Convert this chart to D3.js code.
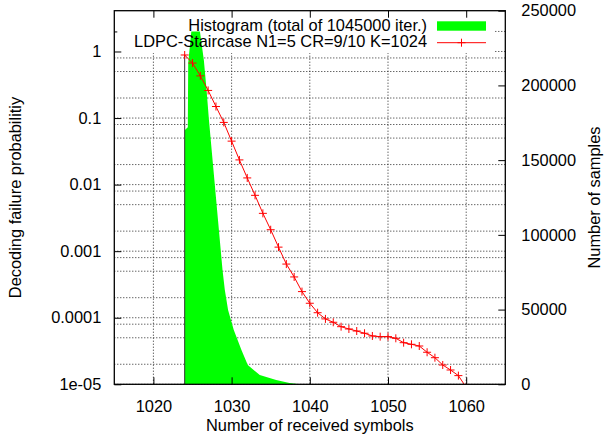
<!DOCTYPE html>
<html>
<head>
<meta charset="utf-8">
<script src="https://cdn.jsdelivr.net/npm/d3@7"></script>
<style>
body { margin: 0; background: #fff; }
text { font-family: "Liberation Sans", Helvetica, Arial, sans-serif; fill: #000; }
</style>
</head>
<body>
<svg width="610" height="440"></svg>
<script>
// decoding failure probability per number of received symbols
let symbols = [1024, 1025, 1026, 1027, 1028, 1029, 1030, 1031, 1032, 1033, 1034, 1035, 1036,
               1037, 1038, 1039, 1040, 1041, 1042, 1043, 1044, 1045, 1046, 1047, 1048, 1049,
               1050, 1051, 1052, 1053, 1054, 1055, 1056, 1057, 1058, 1059, 1060]
let failProb = [0.886, 0.67, 0.43, 0.26, 0.149, 0.086, 0.045, 0.0235, 0.0126, 0.0069, 0.0037, 0.0021, 0.00115,
                0.00064, 0.00041, 0.000247, 0.000165, 0.000119, 0.000096, 0.0000855, 0.0000734, 0.0000678, 0.0000632, 0.0000585, 0.0000532, 0.000052,
                0.000052, 0.0000491, 0.0000422, 0.0000399, 0.0000376, 0.0000303, 0.0000251, 0.0000195, 0.0000164, 0.0000135, 0.000009]

// histogram outline (number of samples)
let histX = [1024, 1024, 1024.4, 1024.45, 1024.85, 1025.95, 1026.45, 1026.8, 1027.1, 1028.84,
             1029.13, 1029.55, 1030.28, 1031.26, 1032.07, 1033.6, 1035.7, 1037.4, 1038.7]
let histCount = [0, 170000, 172000, 215000, 236000, 236000, 217000, 197000, 177000, 76500,
                 63200, 49700, 36300, 22900, 12900, 6200, 2900, 870, 0]

let K = 1024
let xTicks = [1020, 1030, 1040, 1050, 1060]
let yTicks = [1, 0.1, 0.01, 0.001, 0.0001, 0.00001]
let yTickLabels = ["1", "0.1", "0.01", "0.001", "0.0001", "1e-05"]
let y2Ticks = [0, 50000, 100000, 150000, 200000, 250000]
let gridMult = [1, 2, 5, 8]

let legendHist = "Histogram (total of 1045000 iter.)"
let legendCurve = "LDPC-Staircase N1=5 CR=9/10 K=1024"

let svg = d3.select("svg")
let margin = {top: 10.7, right: 104.7, bottom: 55.7, left: 114.3}
let w = 610 - margin.left - margin.right
let h = 440 - margin.top - margin.bottom
let fs = "16.4px"

let x = d3.scaleLinear().domain([1015, 1065]).range([0, w])
let y = d3.scaleLog().domain([1e-5, 4.1]).range([h, 0])
let y2 = d3.scaleLinear().domain([0, 250000]).range([h, 0])

let g = svg.append("g")
    .attr("transform", "translate(" + margin.left + "," + margin.top + ")")

g.append("clipPath").attr("id", "clip")
 .append("rect").attr("width", w).attr("height", h)

// grid
let gridVals = []
for (let k = -6; k <= 1; k++) {
    gridMult.forEach((m) => {
        let v = m * Math.pow(10, k)
        if (v >= 1e-5 && v <= 4.1) gridVals.push(v)
    })
}

let grid = g.append("g")
    .attr("stroke", "#000")
    .attr("stroke-width", 1)
    .attr("stroke-dasharray", "1,2")
    .attr("opacity", 0.85)

grid.selectAll(".hg")
    .data(gridVals)
    .enter().append("line")
    .attr("x1", 0).attr("x2", w)
    .attr("y1", (d) => y(d)).attr("y2", (d) => y(d))

grid.selectAll(".vg")
    .data(xTicks)
    .enter().append("line")
    .attr("y1", 0).attr("y2", h)
    .attr("x1", (d) => x(d)).attr("x2", (d) => x(d))

// key area keeps grid out
g.append("rect")
 .attr("x", 0).attr("y", 0)
 .attr("width", 495 - margin.left).attr("height", 53 - margin.top)
 .attr("fill", "#fff")

let plot = g.append("g").attr("clip-path", "url(#clip)")

// histogram
let hist = histX.map((d, i) => ({x: d, c: histCount[i]}))
plot.append("path")
    .datum(hist)
    .attr("fill", "#00ff00")
    .attr("d", d3.area().x((d) => x(d.x)).y0(h).y1((d) => y2(d.c)))

// vertical line at K
plot.append("line")
    .attr("x1", x(K)).attr("x2", x(K))
    .attr("y1", y(failProb[0])).attr("y2", h)
    .attr("stroke", "#333")
    .attr("stroke-width", 1)

// failure curve
let curve = symbols.map((d, i) => ({s: d, p: failProb[i]}))
plot.append("path")
    .datum(curve)
    .attr("fill", "none")
    .attr("stroke", "#ff0000")
    .attr("stroke-width", 1)
    .attr("d", d3.line().x((d) => x(d.s)).y((d) => y(d.p)))

plot.selectAll(".pt")
    .data(curve)
    .enter().append("path")
    .attr("stroke", "#ff0000")
    .attr("stroke-width", 1)
    .attr("d", (d) => {
        let px = x(d.s), py = y(d.p)
        return "M" + (px - 4) + "," + py + "H" + (px + 4) + "M" + px + "," + (py - 4) + "V" + (py + 4)
    })

// axes
let xa = g.append("g")
    .attr("transform", "translate(0," + h + ")")
    .call(d3.axisBottom(x).tickValues(xTicks).tickSize(-7).tickPadding(16).tickFormat(d3.format("d")))
let xt = g.append("g")
    .call(d3.axisTop(x).tickValues(xTicks).tickSize(-7).tickFormat(""))
let ya = g.append("g")
    .call(d3.axisLeft(y).tickValues(yTicks).tickSize(-7).tickPadding(13)
        .tickFormat((d, i) => yTickLabels[i]))
let ym = g.append("g")
    .call(d3.axisLeft(y).tickValues([2]).tickSize(-3).tickFormat(""))
let y2a = g.append("g")
    .attr("transform", "translate(" + w + ",0)")
    .call(d3.axisRight(y2).tickValues(y2Ticks).tickSize(-7).tickPadding(16).tickFormat(d3.format("d")))

;[xa, xt, ya, ym, y2a].forEach((a) => {
    a.select(".domain").remove()
    a.selectAll("line").attr("stroke", "#000")
    a.selectAll("text").attr("font-size", fs).attr("fill", "#000")
})
y2a.selectAll("text").attr("text-anchor", "start")

g.append("rect")
 .attr("width", w).attr("height", h)
 .attr("fill", "none")
 .attr("stroke", "#000")
 .attr("stroke-width", 1.3)

// axis titles
svg.append("text")
   .attr("x", margin.left + w / 2)
   .attr("y", 431)
   .attr("text-anchor", "middle")
   .attr("font-size", fs)
   .text("Number of received symbols")

svg.append("text")
   .attr("transform", "translate(21," + (margin.top + h / 2) + ") rotate(-90)")
   .attr("text-anchor", "middle")
   .attr("font-size", fs)
   .text("Decoding failure probabilitiy")

svg.append("text")
   .attr("transform", "translate(600," + (margin.top + h / 2) + ") rotate(-90)")
   .attr("text-anchor", "middle")
   .attr("font-size", fs)
   .text("Number of samples")

// legend
let leg = svg.append("g")
leg.append("text")
   .attr("x", 427).attr("y", 30.7)
   .attr("text-anchor", "end")
   .attr("font-size", fs)
   .text(legendHist)
leg.append("rect")
   .attr("x", 437).attr("y", 21.3)
   .attr("width", 49).attr("height", 9.4)
   .attr("fill", "#00ff00")
leg.append("text")
   .attr("x", 427).attr("y", 47.3)
   .attr("text-anchor", "end")
   .attr("font-size", fs)
   .text(legendCurve)
leg.append("line")
   .attr("x1", 437).attr("x2", 486)
   .attr("y1", 42.7).attr("y2", 42.7)
   .attr("stroke", "#ff0000")
leg.append("path")
   .attr("stroke", "#ff0000")
   .attr("d", "M457.5,42.7H465.5M461.5,38.7V46.7")
</script>
</body>
</html>
